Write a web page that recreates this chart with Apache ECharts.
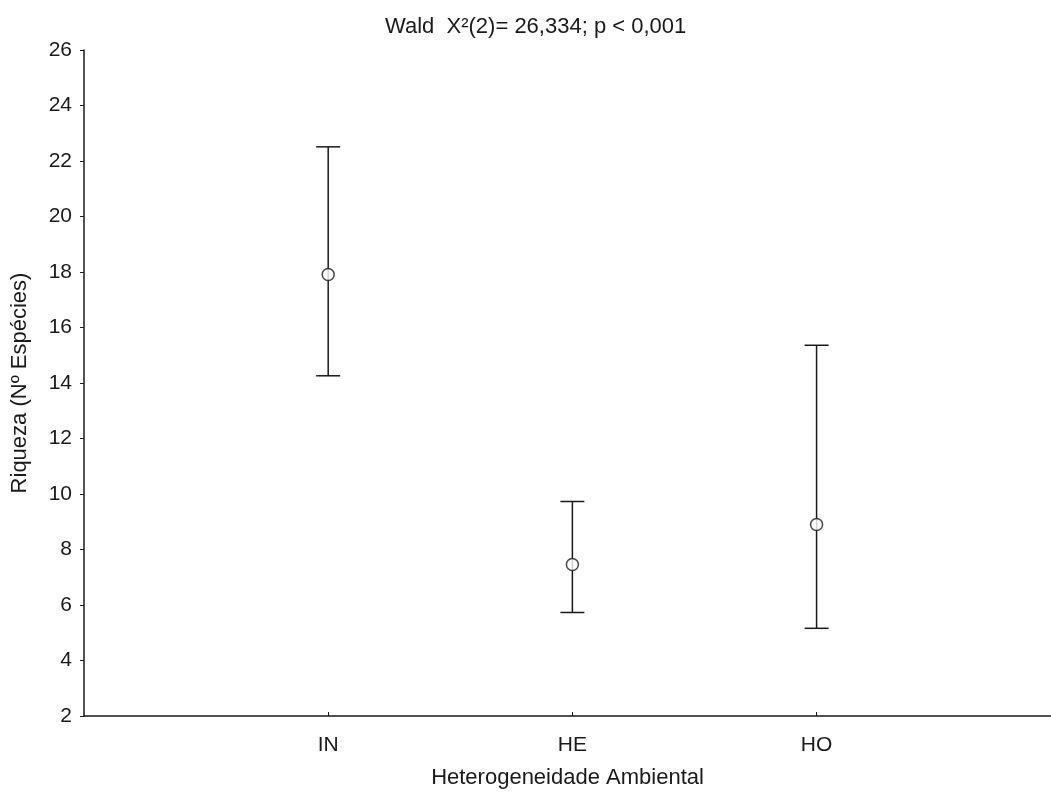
<!DOCTYPE html>
<html>
<head>
<meta charset="utf-8">
<script src="https://cdn.jsdelivr.net/npm/echarts@6/dist/echarts.min.js"></script>
<style>
  html, body { margin: 0; padding: 0; background: #fff; }
  #chart { width: 1051px; height: 792px; }
</style>
</head>
<body>
<div id="chart"></div>
<script>
// 数据：每个类别的均值及置信区间
var categories = ['IN', 'HE', 'HO'];
var means = [17.91, 7.46, 8.90];
var upper = [22.51, 9.73, 15.36];
var lower = [14.26, 5.73, 5.16];

var FONT = 'Liberation Sans, Arial, sans-serif';
var INK = '#1a1a1a';

// 类别放在 1,2,3 的位置
var positions = categories.map(function (c, i) { return i + 1; });

var barData = positions.map(function (x, i) { return [x, lower[i], upper[i]]; });
var meanData = positions.map(function (x, i) { return [x, means[i]]; });

// 误差线绘制
function renderErrorBar(params, api) {
    var x = api.value(0);
    var lo = api.coord([x, api.value(1)]);
    var hi = api.coord([x, api.value(2)]);
    var half = 12;
    var style = { stroke: INK, lineWidth: 1.5 };
    return {
        type: 'group',
        children: [
            { type: 'line', shape: { x1: lo[0], y1: lo[1], x2: hi[0], y2: hi[1] }, style: style },
            { type: 'line', shape: { x1: hi[0] - half, y1: hi[1], x2: hi[0] + half, y2: hi[1] }, style: style },
            { type: 'line', shape: { x1: lo[0] - half, y1: lo[1], x2: lo[0] + half, y2: lo[1] }, style: style }
        ]
    };
}

var chart = echarts.init(document.getElementById('chart'));

chart.setOption({
    animation: false,
    backgroundColor: '#ffffff',
    textStyle: { fontFamily: FONT },
    title: {
        text: 'Wald  X²(2)= 26,334; p < 0,001',
        left: 380,
        top: 11,
        textStyle: { fontFamily: FONT, fontSize: 22, fontWeight: 'normal', color: INK }
    },
    grid: { left: 84, right: 0, top: 50, bottom: 76, outerBoundsMode: 'none' },
    xAxis: {
        type: 'value',
        min: 0,
        max: 3.96,
        interval: 1,
        name: 'Heterogeneidade Ambiental',
        nameLocation: 'middle',
        nameGap: 51,
        nameTextStyle: { fontFamily: FONT, fontSize: 22, color: INK },
        splitLine: { show: false },
        axisLine: { show: true, onZero: false, lineStyle: { color: INK, width: 1.5 } },
        axisTick: { show: true, inside: true, length: 4, customValues: positions, lineStyle: { color: INK, width: 1 } },
        axisLabel: {
            customValues: positions,
            margin: 19,
            fontFamily: FONT, fontSize: 21, color: INK,
            formatter: function (v) { return categories[Math.round(v) - 1] || ''; }
        }
    },
    yAxis: {
        type: 'value',
        min: 2,
        max: 26,
        interval: 2,
        name: 'Riqueza (Nº Espécies)',
        nameLocation: 'middle',
        nameGap: 53,
        nameTextStyle: { fontFamily: FONT, fontSize: 22, color: INK },
        splitLine: { show: false },
        axisLine: { show: true, lineStyle: { color: INK, width: 1.5 } },
        axisTick: { show: true, length: 4, lineStyle: { color: INK, width: 1 } },
        axisLabel: { margin: 12, fontFamily: FONT, fontSize: 21, color: INK }
    },
    series: [
        {
            type: 'custom',
            renderItem: renderErrorBar,
            encode: { x: 0, y: [1, 2] },
            data: barData,
            z: 2
        },
        {
            type: 'scatter',
            data: meanData,
            symbol: 'circle',
            symbolSize: 12,
            itemStyle: { color: '#ffffff', borderColor: INK, borderWidth: 1.5 },
            z: 3
        }
    ]
});
</script>
</body>
</html>
